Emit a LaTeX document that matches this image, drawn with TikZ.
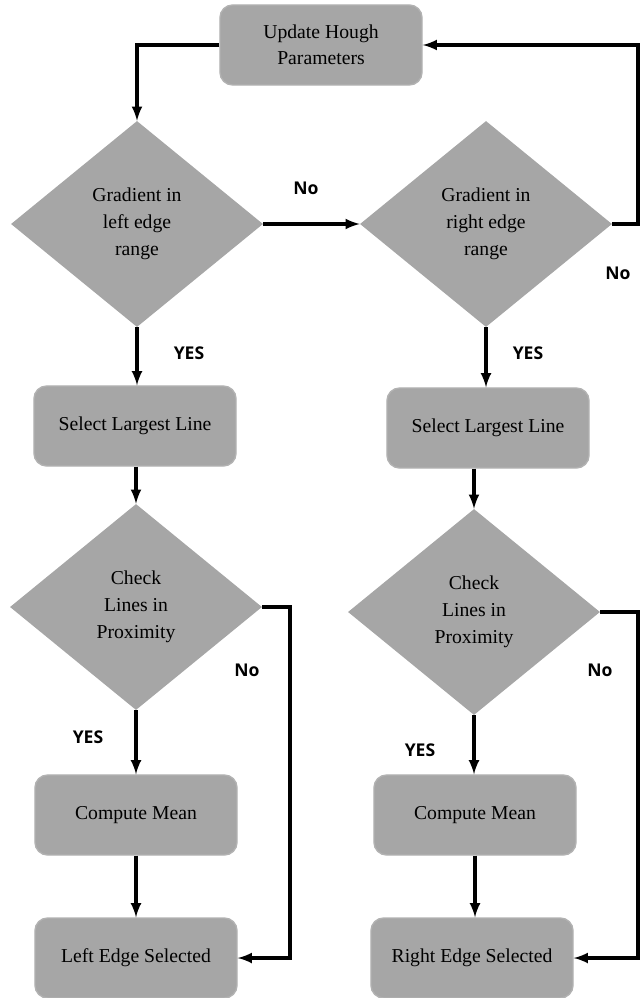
\documentclass[tikz,border=0pt]{standalone}
\usepackage{fontspec}
\setmainfont{Liberation Serif}
\newfontfamily\answerfont{Open Sans}
\usetikzlibrary{shapes.geometric,calc}

\begin{document}
\begin{tikzpicture}[x=0.025cm,y=-0.025cm]
				  \useasboundingbox (0,0) rectangle (640,998);
				  \tikzset{
				    proc/.style={rectangle,rounded corners=9pt,fill=black!35,draw=black!30,line width=1pt,
				      minimum width=5.05cm,minimum height=2cm,align=center,font=\fontsize{14}{18.5}\selectfont},
				    decide/.style={diamond,fill=black!35,minimum width=6.3cm,minimum height=5.15cm,
				      inner sep=0pt,align=center,font=\fontsize{14}{19}\selectfont},
				    flow/.style={line width=2.4pt,-latex},
				    answer/.style={font=\answerfont\bfseries\fontsize{12.5}{15}\selectfont}
				  }
				  %TOP
				  \node[proc] (hough) at (321,45) {Update Hough\\Parameters};
				  %LEFT COLUMN
				  \node[decide] (gradL) at (137,224) {Gradient in\\left edge\\range};
				  \node[proc] (largeL) at (135,426) {Select Largest Line};
				  \node[decide] (checkL) at (136,607) {Check\\Lines in\\Proximity};
				  \node[proc] (meanL) at (136,815) {Compute Mean};
				  \node[proc] (edgeL) at (136,958) {Left Edge Selected};
				  %RIGHT COLUMN
				  \node[decide] (gradR) at (486,224) {Gradient in\\right edge\\range};
				  \node[proc] (largeR) at (488,428) {Select Largest Line};
				  \node[decide] (checkR) at (474,612) {Check\\Lines in\\Proximity};
				  \node[proc] (meanR) at (475,815) {Compute Mean};
				  \node[proc] (edgeR) at (472,958) {Right Edge Selected};
				  %turning points
				  \coordinate (backR) at (638,0);
				  \coordinate (skipL) at (290,0);
				  \coordinate (skipR) at (638,0);
				  %connectors
				  \draw[flow] (hough.west) -| (gradL.north);
				  \draw[flow] (gradL.east) -- (gradR.west);
				  \draw[flow] (gradR.east) -- (backR |- gradR.east) |- (hough.east);
				  \draw[flow] (gradL.south) -- (gradL.south |- largeL.north);
				  \draw[flow] (largeL.south -| checkL.north) -- (checkL.north);
				  \draw[flow] (checkL.south) -- (checkL.south |- meanL.north);
				  \draw[flow] (meanL.south) -- (meanL.south |- edgeL.north);
				  \draw[flow] (checkL.east) -| (skipL |- edgeL.east) -- (edgeL.east);
				  \draw[flow] (gradR.south) -- (gradR.south |- largeR.north);
				  \draw[flow] (largeR.south -| checkR.north) -- (checkR.north);
				  \draw[flow] (checkR.south) -- (checkR.south |- meanR.north);
				  \draw[flow] (meanR.south) -- (meanR.south |- edgeR.north);
				  \draw[flow] (checkR.east) -| (skipR |- edgeR.east) -- (edgeR.east);
				  %YES / No
				  \node[answer] (noA) at (306,188) {No};
				  \node[answer] (noB) at (618,273) {No};
				  \node[answer] (yesA) at (189,353) {YES};
				  \node[answer] (yesB) at (528,353) {YES};
				  \node[answer] (noC) at (247,670) {No};
				  \node[answer] (noD) at (600,670) {No};
				  \node[answer] (yesC) at (88,737) {YES};
				  \node[answer] (yesD) at (420,750) {YES};
\end{tikzpicture}
\end{document}
